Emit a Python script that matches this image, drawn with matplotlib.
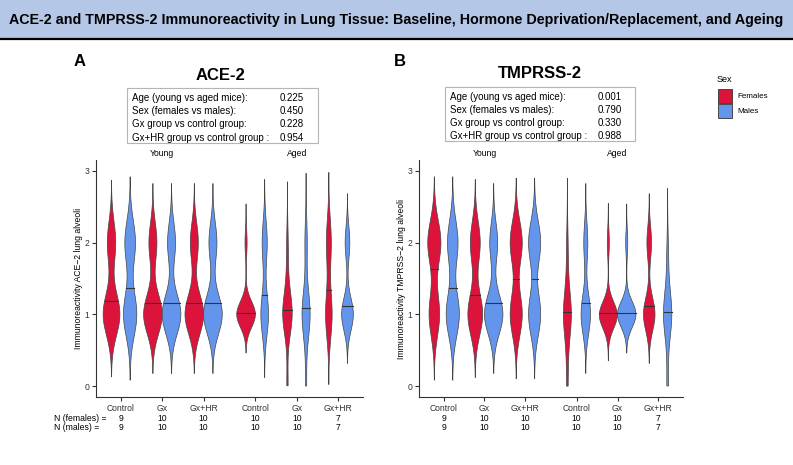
import numpy as np
import matplotlib.pyplot as plt
from matplotlib.patches import Rectangle
from matplotlib import transforms

plt.rcParams['font.family'] = ['Liberation Sans', 'DejaVu Sans']

groups = ["Control", "Gx", "Gx+HR", "Control", "Gx", "Gx+HR"]
n_females = [9, 10, 10, 10, 10, 7]
n_males = [9, 10, 10, 10, 10, 7]

stat_labels = ["Age (young vs aged mice):", "Sex (females vs males):",
               "Gx group vs control group:", "Gx+HR group vs control group :"]
ace2_pvals = ["0.225", "0.450", "0.228", "0.954"]
tmprss2_pvals = ["0.001", "0.790", "0.330", "0.988"]

# immunoreactivity score per animal (young C, Gx, Gx+HR, aged C, Gx, Gx+HR)
ace2_females = [
    [1, 1, 1, 1, 1, 1, 2, 2, 2],
    [1, 1, 1, 1, 1, 1, 1, 2, 2, 2],
    [1, 1, 1, 1, 1, 1, 1, 2, 2, 2],
    [1, 1, 1, 1, 1, 1, 1, 1, 1, 2],
    [0, 1, 1, 1, 1, 1, 1, 1, 1.5, 2],
    [1, 1, 1, 1, 2, 2, 2],
]
ace2_males = [
    [1, 1, 1, 1, 1, 2, 2, 2, 2],
    [1, 1, 1, 1, 1, 1, 1, 2, 2, 2],
    [1, 1, 1, 1, 1, 1, 1, 2, 2, 2],
    [1, 1, 1, 1, 1, 1, 2, 2, 2, 2],
    [0, 1, 1, 1, 1, 1, 1, 1, 2, 2],
    [1, 1, 1, 1, 1, 2, 2],
]
tmprss2_females = [
    [1, 1, 1, 1, 2, 2, 2, 2, 2],
    [1, 1, 1, 1, 1, 1, 2, 2, 2, 2],
    [1, 1, 1, 1, 1, 2, 2, 2, 2, 2],
    [0, 0.5, 1, 1, 1, 1, 1, 1, 1.5, 2],
    [0.9, 1, 1, 1, 1, 1, 1, 1, 1, 2],
    [1, 1, 1, 1, 1, 2, 2],
]
tmprss2_males = [
    [1, 1, 1, 1, 1, 2, 2, 2, 2],
    [1, 1, 1, 1, 1, 1, 1, 2, 2, 2],
    [1, 1, 1, 1, 1, 2, 2, 2, 2, 2],
    [1, 1, 1, 1, 1, 1, 1, 2, 2, 2],
    [1, 1, 1, 1, 1, 1, 1, 1, 1, 2],
    [0, 1, 1, 1, 1, 1, 1.8],
]

RED = '#DC143C'
BLUE = '#6495ED'
EDGE = '#444444'
W, H = 793, 465
xpos = [0, 1, 2, 3.25, 4.25, 5.25]


def fx(px):
    return px / W


def fy(px):
    return 1 - px / H


def nrd0(x):
    x = np.asarray(x, float)
    hi = np.std(x, ddof=1)
    q75, q25 = np.percentile(x, [75, 25])
    lo = min(hi, (q75 - q25) / 1.34)
    if lo == 0:
        lo = hi
    return 0.9 * lo * len(x) ** -0.2


def density(x):
    x = np.asarray(x, float)
    bw = nrd0(x)
    y = np.linspace(x.min() - 3 * bw, x.max() + 3 * bw, 512)
    d = np.exp(-0.5 * ((y[:, None] - x[None, :]) / bw) ** 2).sum(1)
    d = d / (len(x) * bw * np.sqrt(2 * np.pi))
    return y, d


def draw_panel(ax, females, males):
    dens = []
    for i in range(6):
        for vals, off, col in [(females[i], -0.225, RED), (males[i], 0.225, BLUE)]:
            y, d = density(vals)
            dens.append((i, xpos[i] + off, col, y, d))
    # area scaling is done per facet (young / aged)
    for facet in [(0, 1, 2), (3, 4, 5)]:
        items = [e for e in dens if e[0] in facet]
        dmax = max(e[4].max() for e in items)
        for i, xc, col, y, d in items:
            keep = (y >= 0) & (y <= 3)
            y, d = y[keep], d[keep]
            w = d / dmax * 0.225
            xs = np.concatenate([xc - w, (xc + w)[::-1]])
            ys = np.concatenate([y, y[::-1]])
            ax.fill(xs, ys, facecolor=col, edgecolor=EDGE, linewidth=0.5, zorder=2)
            cd = np.cumsum(d) / d.sum()
            ym = np.interp(0.5, cd, y)
            wm = np.interp(ym, y, w)
            ax.plot([xc - wm, xc + wm], [ym, ym], color='#333333', lw=0.8, zorder=3)

    ax.set_xlim(-0.6, 5.85)
    ax.set_ylim(-0.15, 3.15)
    ax.set_xticks(xpos)
    ax.set_xticklabels(groups)
    ax.set_yticks([0, 1, 2, 3])
    for s in ['top', 'right']:
        ax.spines[s].set_visible(False)
    for s in ['left', 'bottom']:
        ax.spines[s].set_color('#333333')
        ax.spines[s].set_linewidth(0.8)
    ax.tick_params(length=3, width=0.8, color='#333333', labelsize=6.2,
                   labelcolor='#333333', pad=2)

    tr = transforms.blended_transform_factory(ax.transData, fig.transFigure)
    ax.text(1, fy(154), "Young", transform=tr, ha='center', va='center', fontsize=6.2)
    ax.text(4.25, fy(154), "Aged", transform=tr, ha='center', va='center', fontsize=6.2)
    for i in range(6):
        ax.text(xpos[i], fy(418), str(n_females[i]), transform=tr,
                ha='center', va='center', fontsize=6.2)
        ax.text(xpos[i], fy(427), str(n_males[i]), transform=tr,
                ha='center', va='center', fontsize=6.2)


def stats_box(x0, x1, y0, y1, xv, pvals):
    fig.add_artist(Rectangle((fx(x0), fy(y1)), fx(x1) - fx(x0), fy(y0) - fy(y1),
                             transform=fig.transFigure, facecolor='white',
                             edgecolor='#b5b5b5', linewidth=0.8))
    step = (y1 - y0 - 10) / 3.4
    for k in range(4):
        yy = y0 + 10 + k * step
        fig.text(fx(x0 + 5), fy(yy), stat_labels[k], ha='left', va='center', fontsize=7)
        fig.text(fx(xv), fy(yy), pvals[k], ha='left', va='center', fontsize=7)


fig = plt.figure(figsize=(W / 100, H / 100), dpi=100)

# banner
fig.add_artist(Rectangle((0, fy(38)), 1, fy(0) - fy(38), transform=fig.transFigure,
                         facecolor='#B4C7E7', edgecolor='none'))
fig.add_artist(plt.Line2D([0, 1], [fy(39), fy(39)], transform=fig.transFigure,
                          color='black', lw=1.6))
fig.text(0.5, fy(20), "ACE-2 and TMPRSS-2 Immunoreactivity in Lung Tissue: Baseline, "
         "Hormone Deprivation/Replacement, and Ageing",
         ha='center', va='center', fontsize=10.3, fontweight='bold')

axA = fig.add_axes([fx(96), fy(397), fx(363) - fx(96), fy(160) - fy(397)])
axB = fig.add_axes([fx(419), fy(397), fx(683) - fx(419), fy(160) - fy(397)])
draw_panel(axA, ace2_females, ace2_males)
draw_panel(axB, tmprss2_females, tmprss2_males)
axA.set_ylabel("Immunoreactivity ACE\u22122 lung alveoli", fontsize=6.2)
axB.set_ylabel("Immunoreactivity TMPRSS\u22122 lung alveoli", fontsize=6.2)
axA.yaxis.set_label_coords(-0.05, 0.5)
axB.yaxis.set_label_coords(-0.05, 0.5)

fig.text(fx(80), fy(62), "A", ha='center', va='center', fontsize=12, fontweight='bold')
fig.text(fx(400), fy(61), "B", ha='center', va='center', fontsize=12, fontweight='bold')
fig.text(fx(220), fy(75), "ACE-2", ha='center', va='center', fontsize=12, fontweight='bold')
fig.text(fx(540), fy(73), "TMPRSS-2", ha='center', va='center', fontsize=12, fontweight='bold')

stats_box(127, 318, 88, 143, 280, ace2_pvals)
stats_box(445, 635, 87, 141, 598, tmprss2_pvals)

fig.text(fx(54), fy(418), "N (females) =", ha='left', va='center', fontsize=6.2)
fig.text(fx(54), fy(427), "N (males) =", ha='left', va='center', fontsize=6.2)

# legend
fig.text(fx(717), fy(79), "Sex", ha='left', va='center', fontsize=6.5)
for k, (lab, col) in enumerate([("Females", RED), ("Males", BLUE)]):
    top = 89 + k * 15
    fig.add_artist(Rectangle((fx(718), fy(top + 14)), fx(14), fy(0) - fy(14),
                             transform=fig.transFigure, facecolor=col,
                             edgecolor='#333333', linewidth=0.6))
    fig.text(fx(737), fy(top + 7), lab, ha='left', va='center', fontsize=5.8)

fig.savefig("out.png", dpi=100)
